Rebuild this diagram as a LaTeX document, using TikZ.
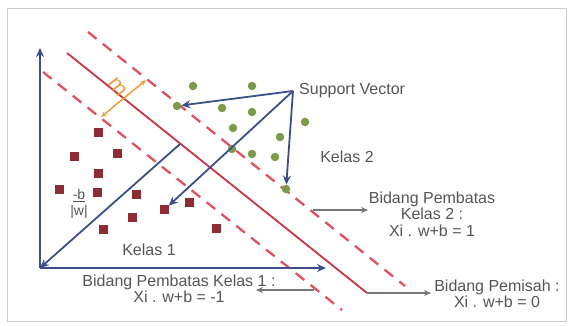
\documentclass[tikz,border=0pt]{standalone}
\usepackage{fontspec}
\setmainfont{Liberation Sans}
\usetikzlibrary{arrows.meta}
\definecolor{redline}{HTML}{E0505E}
\definecolor{redsolid}{HTML}{CC3A4A}
\definecolor{axisblue}{HTML}{3B4F8C}
\definecolor{dotgreen}{HTML}{7D9A4A}
\definecolor{sqred}{HTML}{8E2B33}
\definecolor{marg}{HTML}{E8A040}
\definecolor{txtgray}{HTML}{555555}
\begin{document}
\begin{tikzpicture}[x=1pt,y=-1pt,
  gdot/.style={circle,fill=dotgreen,inner sep=0pt,minimum size=8.5pt},
  rsq/.style={rectangle,fill=sqred,inner sep=0pt,minimum size=9pt},
  lbl/.style={text=txtgray,font=\fontsize{16}{16.5}\selectfont,inner sep=0pt,align=center},
  bluearrow/.style={draw=axisblue,line width=1.8pt,-{Stealth[length=9pt,width=8pt]}},
  grayarrow/.style={draw=txtgray!80,line width=1.1pt,-{Stealth[length=7pt,width=6pt]}},
  dashedred/.style={draw=redline,line width=2.3pt,dash pattern=on 11pt off 8pt},
  solidred/.style={draw=redsolid,line width=1.8pt}]
\useasboundingbox (0,0) rectangle (571,326);
\draw[gray!40,line width=1pt] (7,9) rectangle (566,321);

% hyperplanes
\coordinate (U1) at (88,32);  \coordinate (U2) at (405,286);
\coordinate (S1) at (67,53);  \coordinate (S2) at (367,293);
\coordinate (L1) at (43,72);  \coordinate (L2) at (342,310);
\draw[dashedred] (U1) -- (U2);
\draw[solidred] (S1) -- (S2);
\draw[dashedred] (L1) -- (L2);

% axes
\coordinate (O) at (40,268);
\coordinate (Ytip) at (40,48);
\coordinate (Xtip) at (326,268);
\draw[bluearrow,line width=2.2pt] (O) -- (Ytip);
\draw[bluearrow,line width=2.2pt] (O) -- (Xtip);

% green dots (class 2)
\node[gdot] (g1) at (193,86) {};
\node[gdot] (g2) at (252,86) {};
\node[gdot] (g3) at (177,106) {};
\node[gdot] (g4) at (222,108) {};
\node[gdot] (g5) at (252,112) {};
\node[gdot] (g6) at (305,122) {};
\node[gdot] (g7) at (233,128) {};
\node[gdot] (g8) at (280,137) {};
\node[gdot] (g9) at (232,149) {};
\node[gdot] (g10) at (252,154) {};
\node[gdot] (g11) at (275,157) {};
\node[gdot] (g12) at (286,189) {};

% red squares (class 1)
\node[rsq] (r1) at (98,133) {};
\node[rsq] (r2) at (74,157) {};
\node[rsq] (r3) at (117,154) {};
\node[rsq] (r4) at (98,174) {};
\node[rsq] (r5) at (59,190) {};
\node[rsq] (r6) at (97,193) {};
\node[rsq] (r7) at (136,195) {};
\node[rsq] (r8) at (164,210) {};
\node[rsq] (r9) at (189,203) {};
\node[rsq] (r10) at (132,218) {};
\node[rsq] (r11) at (103,230) {};
\node[rsq] (r12) at (216,229) {};

% margin
\coordinate (M1) at (101,117);
\coordinate (M2) at (146,80);
\draw[marg,line width=1.6pt,{Stealth[length=6pt,width=5pt]}-{Stealth[length=6pt,width=5pt]}] (M1) -- (M2);
\node[text=marg,font=\fontsize{22}{22}\selectfont,rotate=-52,inner sep=0pt] (mlab) at (118,87) {m};

% support vector arrows
\node[lbl,anchor=west] (sv) at (299,91) {Support Vector};
\coordinate (svo) at (293,91);
\draw[bluearrow] (svo) -- (g3);
\draw[bluearrow] (svo) -- (g12);
\draw[bluearrow] (svo) -- (r8);

% -b/|w| arrow
\coordinate (Sb) at (180,144);
\draw[bluearrow] (Sb) -- (O);
\node[lbl,font=\fontsize{14}{16}\selectfont] (bw) at (79,204) {\underline{-b}\\|w|};

% class labels
\node[lbl] (k1) at (149,250) {Kelas 1};
\node[lbl] (k2) at (347,157) {Kelas 2};

% boundary labels
\node[lbl] (bp2) at (432,214) {Bidang Pembatas\\Kelas 2 :\\Xi . w+b = 1};
\coordinate (a2s) at (313,210);
\coordinate (a2e) at (368,210);
\draw[grayarrow] (a2s) -- (a2e);

\node[lbl] (bpm) at (497,294) {Bidang Pemisah :\\Xi . w+b = 0};
\coordinate (a0e) at (431,293);
\draw[grayarrow] (S2) -- (a0e);

\node[lbl] (bp1) at (179,289) {Bidang Pembatas Kelas 1 :\\Xi . w+b = -1};
\coordinate (a1s) at (314,290);
\coordinate (a1e) at (256,290);
\draw[grayarrow] (a1s) -- (a1e);
\end{tikzpicture}
\end{document}
